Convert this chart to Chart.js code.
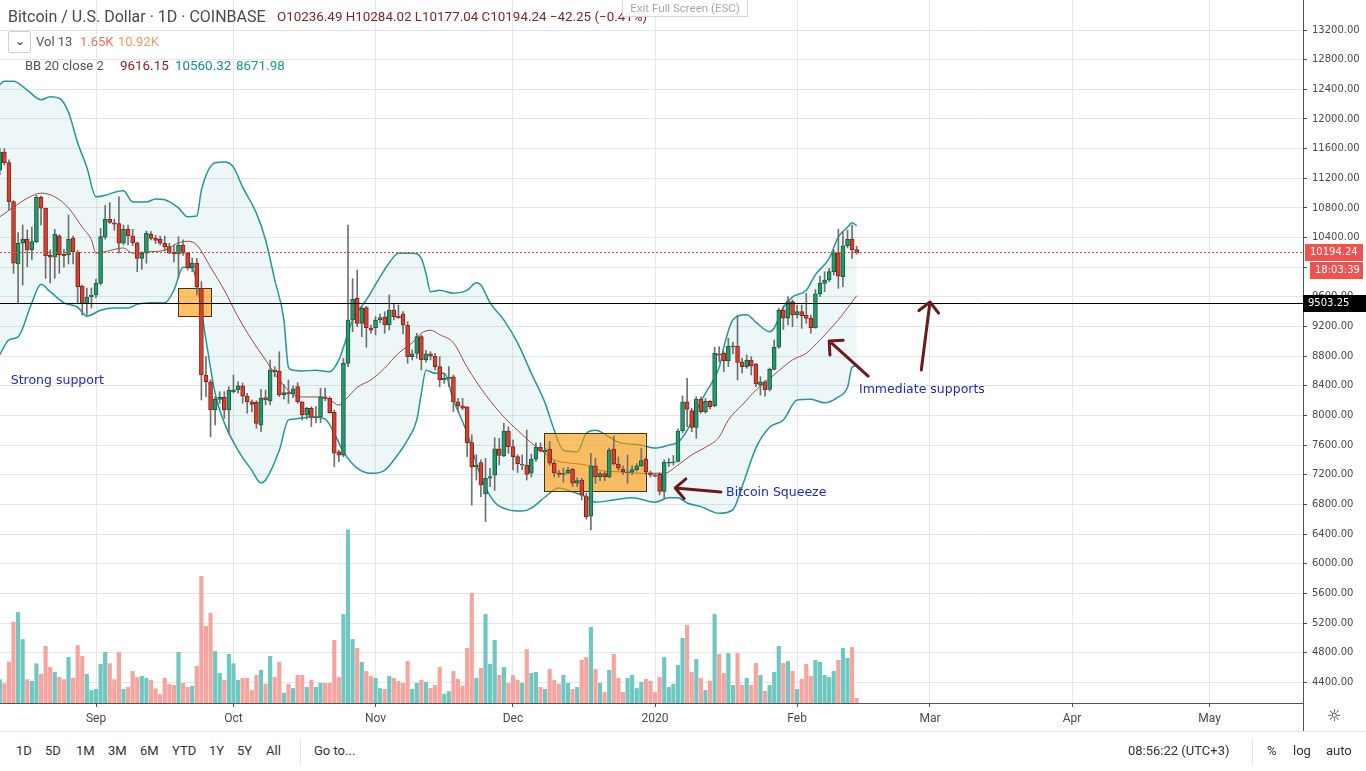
<!DOCTYPE html>
<html>
<head>
<meta charset="utf-8">
<title>BTCUSD 1D</title>
<script src="https://cdn.jsdelivr.net/npm/chart.js@4.4.1/dist/chart.umd.min.js"></script>
<style>
  body { margin: 0; width: 1366px; height: 771px; overflow: hidden; background: #fff; font-family: Roboto, "Liberation Sans", sans-serif; }
  #wrap { position: absolute; left: 0; top: 0; width: 1366px; height: 731px; }
  .t { position: absolute; white-space: nowrap; line-height: 1; }
  #exitfs { left: 622px; top: -1px; width: 124px; height: 16px; border: 1px solid #d6d6d6; background: rgba(255,255,255,0.92); color: #a8a8a8; font-size: 11.5px; text-align: center; line-height: 16px; }
  #ddbtn { left: 8px; top: 31px; width: 21px; height: 20px; border: 1px solid #d0d0d0; border-radius: 2px; background: #fff; color: #444; font-size: 12px; text-align: center; line-height: 18px; }
  #toolbar { position: absolute; left: 0; top: 731px; width: 1366px; height: 40px; border-top: 1px solid #e0e3eb; font-size: 13px; color: #333; }
  #toolbar span { position: absolute; top: 11px; white-space: nowrap; }
  .sep { position: absolute; top: 8px; width: 1px; height: 24px; background: #e0e3eb; }
  #corner { position: absolute; left: 1303px; top: 703px; width: 1px; height: 28px; background: #555; }
  #gear { left: 1327px; top: 708px; font-size: 16px; color: #333; font-family: "DejaVu Sans"; }
</style>
</head>
<body>
<div id="wrap"><canvas id="chart" width="1366" height="731"></canvas></div>

<div class="t" id="title" style="left:8px;top:9px;font-size:16px;color:#4a4a4a">Bitcoin / U.S. Dollar · 1D · COINBASE</div>
<div class="t" id="ohlc" style="left:277px;top:10px;font-size:13.4px;color:#862222"></div>
<div class="t" id="exitfs">Exit Full Screen (ESC)</div>
<div class="t" id="ddbtn">&#8964;</div>
<div class="t" style="left:36px;top:35px;font-size:13px;color:#555">Vol 13</div>
<div class="t" id="volLast" style="left:80px;top:35px;font-size:13px;color:#ef6f66"></div>
<div class="t" style="left:118px;top:35px;font-size:13px;color:#f29b55">10.92K</div>
<div class="t" style="left:25px;top:59px;font-size:13px;color:#555">BB 20 close 2</div>
<div class="t" id="bbBasisVal" style="left:120px;top:59px;font-size:13.4px;color:#8c1c1c"></div>
<div class="t" id="bbUpperVal" style="left:175px;top:59px;font-size:13.4px;color:#138d9a"></div>
<div class="t" id="bbLowerVal" style="left:236px;top:59px;font-size:13.4px;color:#169c8a"></div>

<div id="corner"></div>
<div class="t" id="gear">&#9788;</div>

<div id="toolbar">
  <span style="left:16px">1D</span>
  <span style="left:45px">5D</span>
  <span style="left:76px">1M</span>
  <span style="left:108px">3M</span>
  <span style="left:140px">6M</span>
  <span style="left:172px">YTD</span>
  <span style="left:209px">1Y</span>
  <span style="left:237px">5Y</span>
  <span style="left:266px">All</span>
  <div class="sep" style="left:300px"></div>
  <span style="left:314px">Go to...</span>
  <span style="left:1128px">08:56:22 (UTC+3)</span>
  <div class="sep" style="left:1252px"></div>
  <span style="left:1267px">%</span>
  <span style="left:1293px">log</span>
  <span style="left:1326px">auto</span>
</div>

<script>
// BTC/USD daily, Coinbase. day 0 = 1 Sep 2019, first candle 11 Aug 2019
const firstDay = -21;

const opens = [
  11310, 11555, 11410, 10884, 10044, 10323, 10377, 10232, 10345, 10943,
  10795, 10165, 10135, 10425, 10174, 10165, 10390, 10205, 9746, 9513,
  9603, 9625, 9783, 10404, 10646, 10600, 10590, 10323, 10511, 10425,
  10330, 10120, 10188, 10444, 10390, 10377, 10323, 10278, 10200, 10178,
  10300, 10188, 9993, 10053, 9715, 8546, 8455, 8074, 8218, 8245,
  8074, 8320, 8345, 8400, 8262, 8185, 8176, 7870, 8240, 8196,
  8613, 8600, 8280, 8310, 8290, 8390, 8185, 8006, 8096, 7970,
  7983, 8253, 8230, 8043, 7510, 7465, 8703, 9288, 9580, 9243,
  9455, 9180, 9185, 9288, 9330, 9220, 9423, 9340, 9370, 9220,
  8793, 8838, 9063, 8748, 8830, 8800, 8660, 8480, 8500, 8520,
  8185, 8130, 8118, 7633, 7310, 7365, 6940, 7153, 7193, 7550,
  7453, 7790, 7580, 7445, 7330, 7330, 7220, 7410, 7570, 7510,
  7545, 7355, 7225, 7205, 7225, 7275, 7085, 7130, 6905, 6640,
  7320, 7175, 7215, 7170, 7545, 7345, 7275, 7225, 7235, 7270,
  7320, 7410, 7225, 7195, 7207, 6975, 7355, 7360, 7380, 7790,
  8185, 8065, 7840, 8222, 8050, 8190, 8132, 8830, 8838, 8740,
  8925, 8937, 8725, 8657, 8748, 8690, 8410, 8455, 8353, 8622,
  8920, 9423, 9312, 9535, 9355, 9400, 9355, 9310, 9184, 9640,
  9783, 9828, 9940, 10196, 9872, 10290, 10377, 10236.49
];
const highs = [
  11600, 11600, 11450, 10900, 10466, 10570, 10502, 10543, 10970, 10960,
  10800, 10232, 10511, 10440, 10240, 10704, 10420, 10230, 9760, 9720,
  9720, 9840, 10525, 10830, 10870, 10650, 10950, 10570, 10570, 10510,
  10340, 10210, 10490, 10480, 10430, 10420, 10420, 10323, 10300, 10412,
  10370, 10200, 10124, 10120, 9805, 8793, 8480, 8254, 8321, 8321,
  8388, 8546, 8455, 8438, 8300, 8210, 8200, 8353, 8344, 8748,
  8658, 8860, 8420, 8478, 8400, 8442, 8185, 8110, 8118, 8120,
  8366, 8370, 8254, 8074, 7534, 8770, 10570, 9845, 9962, 9477,
  9470, 9220, 9334, 9370, 9400, 9625, 9513, 9490, 9400, 9265,
  8883, 9109, 9086, 8880, 8860, 8838, 8793, 8560, 8658, 8546,
  8230, 8230, 8118, 7740, 7470, 7400, 7422, 7287, 7700, 7692,
  7894, 7850, 7669, 7470, 7470, 7804, 7480, 7630, 7630, 7560,
  7650, 7390, 7260, 7290, 7300, 7290, 7160, 7152, 6950, 7489,
  7422, 7240, 7240, 7560, 7723, 7440, 7320, 7467, 7320, 7350,
  7557, 7430, 7250, 7220, 7228, 7400, 7420, 7460, 7820, 8263,
  8501, 8096, 8254, 8250, 8230, 8200, 8920, 8928, 8860, 9040,
  8990, 9355, 8771, 8816, 8793, 8704, 8524, 8470, 8640, 9018,
  9445, 9480, 9603, 9558, 9490, 9490, 9648, 9355, 9700, 9882,
  9940, 9985, 10232, 10511, 10480, 10500, 10570, 10284.02
];
const lows = [
  11250, 11380, 10772, 9918, 9513, 9760, 10007, 10097, 10330, 10570,
  9850, 9787, 9850, 9918, 10000, 10043, 10043, 9513, 9355, 9355,
  9450, 9590, 9760, 10380, 10590, 10500, 10190, 10300, 10300, 10290,
  9940, 9970, 10053, 10367, 10320, 10300, 10220, 10180, 10070, 9850,
  10160, 9962, 9940, 9625, 8209, 8253, 7713, 7871, 8164, 7960,
  7760, 8303, 8300, 8164, 8030, 8050, 7827, 7781, 8141, 8141,
  8523, 8253, 8220, 8164, 8240, 8164, 7939, 7950, 7850, 7900,
  7903, 8200, 8030, 7310, 7376, 7440, 8660, 9130, 9197, 9063,
  8920, 9110, 9086, 9250, 9109, 9153, 9288, 9311, 9100, 8704,
  8748, 8771, 8613, 8720, 8750, 8613, 8388, 8434, 8388, 8052,
  8050, 8080, 7444, 6790, 7130, 6904, 6567, 7039, 6990, 7332,
  7444, 7490, 7264, 7230, 7270, 7130, 7170, 7380, 7510, 7470,
  7330, 7170, 7170, 7100, 7210, 7040, 7040, 6860, 6600, 6455,
  7085, 7120, 7120, 7160, 7332, 7260, 7200, 7085, 7200, 7250,
  7310, 7200, 7170, 7170, 6927, 6883, 7310, 7330, 7370, 7768,
  7850, 7781, 7692, 8030, 8030, 8090, 8118, 8720, 8590, 8658,
  8830, 8480, 8569, 8636, 8546, 8388, 8276, 8260, 8330, 8613,
  8906, 9160, 9220, 9197, 9311, 9175, 9243, 9109, 9176, 9603,
  9670, 9805, 9895, 9715, 9737, 10260, 10120, 10177.04
];
const closes = [
  11555, 11410, 10884, 10053, 10323, 10377, 10232, 10345, 10943, 10795,
  10151, 10135, 10444, 10165, 10156, 10377, 10205, 9737, 9513, 9594,
  9625, 9783, 10412, 10646, 10606, 10580, 10323, 10511, 10425, 10330,
  10120, 10188, 10457, 10390, 10363, 10323, 10278, 10196, 10180, 10300,
  10188, 9993, 10053, 9737, 8546, 8455, 8074, 8218, 8245, 8074,
  8344, 8345, 8400, 8262, 8185, 8150, 7893, 8232, 8210, 8613,
  8590, 8276, 8310, 8290, 8360, 8185, 8006, 8096, 7975, 7980,
  8253, 8230, 8038, 7490, 7465, 8703, 9288, 9567, 9243, 9445,
  9185, 9150, 9288, 9320, 9220, 9423, 9330, 9320, 9220, 8793,
  8830, 9063, 8748, 8830, 8800, 8660, 8478, 8500, 8510, 8185,
  8130, 8100, 7633, 7310, 7330, 7063, 7153, 7175, 7550, 7460,
  7790, 7580, 7445, 7350, 7345, 7205, 7410, 7570, 7520, 7530,
  7355, 7225, 7205, 7220, 7260, 7085, 7120, 6925, 6635, 7320,
  7175, 7215, 7175, 7534, 7345, 7290, 7240, 7235, 7270, 7320,
  7390, 7240, 7195, 7180, 6975, 7370, 7370, 7375, 7790, 8185,
  8083, 7840, 8222, 8050, 8190, 8120, 8838, 8815, 8740, 8937,
  8940, 8717, 8657, 8748, 8670, 8424, 8455, 8344, 8622, 8920,
  9423, 9312, 9535, 9355, 9400, 9346, 9310, 9184, 9640, 9783,
  9828, 9940, 10196, 9880, 10290, 10377, 10236.49, 10194.24
];
// volume in thousands of BTC
const volumes = [
  8.2, 6.8, 14.4, 28.4, 31.8, 22.3, 8.2, 7.6, 13.8, 10.1,
  19.9, 12.5, 10.8, 9.0, 8.2, 16.0, 8.7, 20.2, 16.4, 10.1,
  4.4, 4.8, 13.6, 17.8, 13.8, 8.2, 17.8, 4.8, 5.5, 11.1,
  9.0, 9.4, 8.7, 8.0, 5.0, 3.0, 8.7, 6.6, 6.2, 17.8,
  6.9, 5.5, 5.9, 12.9, 44.5, 26.9, 31.5, 18.1, 10.4, 8.0,
  17.1, 13.8, 8.0, 8.7, 8.7, 4.4, 9.7, 11.5, 6.6, 16.4,
  9.0, 14.3, 3.4, 6.6, 5.1, 9.7, 9.7, 5.5, 8.0, 5.5,
  6.9, 6.9, 6.9, 22.0, 9.0, 31.1, 60.8, 22.3, 19.2, 14.3,
  11.1, 9.4, 8.7, 5.1, 4.8, 9.4, 8.7, 7.6, 6.9, 14.6,
  4.8, 6.9, 8.0, 7.3, 5.1, 6.2, 12.5, 3.0, 4.0, 11.1,
  8.3, 5.9, 19.2, 38.5, 8.7, 12.2, 31.1, 13.6, 22.0, 9.7,
  12.5, 6.9, 9.7, 8.0, 6.9, 18.8, 10.4, 10.8, 5.5, 4.8,
  11.8, 8.0, 6.6, 9.7, 6.9, 4.8, 5.5, 15.0, 16.0, 26.6,
  11.8, 6.9, 3.7, 11.5, 17.1, 8.7, 3.7, 8.7, 9.7, 5.1,
  7.3, 8.3, 7.7, 3.7, 9.0, 16.0, 5.5, 6.6, 13.2, 22.7,
  27.3, 10.8, 15.3, 8.7, 4.4, 7.7, 31.1, 17.1, 10.4, 17.4,
  6.2, 17.4, 6.2, 8.7, 6.2, 13.9, 9.7, 4.1, 6.2, 10.8,
  19.9, 13.9, 14.6, 11.1, 4.8, 8.3, 13.6, 9.4, 15.0, 14.3,
  9.7, 9.0, 11.1, 15.0, 19.2, 15.7, 19.5, 1.65
];

// Bollinger bands (20, 2) as [day, price]
const bbUpper = [
  [-21, 12460], [-20, 12510], [-18, 12510], [-15, 12390], [-12, 12260], [-10, 12300], [-8, 12280],
  [-6, 12090], [-4, 11680], [-2, 11350], [0, 10950], [2, 10970], [4, 11010], [6, 11030], [8, 10880],
  [11, 10880], [13, 10920], [15, 10910], [18, 10800], [20, 10680], [22, 10690], [23, 11040],
  [26, 11410], [28, 11420], [30, 11350], [32, 11080], [35, 10730], [37, 10370], [39, 9830],
  [41, 9290], [42, 8650], [43, 8610], [45, 8600], [48, 8610], [51, 8590], [53, 8750], [54, 8920],
  [56, 9290], [59, 9560], [62, 9870], [64, 10060], [66, 10190], [69, 10190], [71, 10120],
  [72, 9920], [73, 9670], [75, 9690], [78, 9650], [81, 9690], [83, 9790], [84, 9760], [86, 9520],
  [89, 9290], [92, 8980], [95, 8570], [98, 8170], [100, 7800], [102, 7530], [105, 7510],
  [107, 7760], [109, 7800], [112, 7710], [114, 7640], [119, 7600], [122, 7560], [125, 7600],
  [127, 7640], [129, 7800], [131, 8070], [133, 8300], [136, 8650], [137, 8920], [139, 9290],
  [142, 9360], [144, 9260], [147, 9130], [148, 9180], [150, 9460], [152, 9600], [155, 9690],
  [157, 9900], [160, 10120], [162, 10410], [164, 10540], [165, 10600], [166, 10560.32]
];
const bbBasis = [
  [-21, 10680], [-18, 10810], [-15, 10930], [-12, 11000], [-9, 10950], [-6, 10800], [-3, 10540],
  [-1, 10370], [0, 10190], [2, 10210], [6, 10260], [8, 10190], [12, 10210], [15, 10230],
  [18, 10330], [20, 10350], [22, 10300], [25, 10000], [28, 9690], [31, 9330], [34, 9020],
  [37, 8750], [40, 8480], [43, 8280], [45, 8250], [49, 8250], [51, 8210], [53, 8140], [55, 8250],
  [57, 8380], [60, 8480], [63, 8640], [66, 8840], [69, 8980], [71, 9110], [73, 9150], [75, 9090],
  [78, 8980], [81, 8650], [85, 8280], [89, 7980], [92, 7800], [95, 7630], [98, 7490], [100, 7400],
  [103, 7360], [107, 7330], [110, 7260], [114, 7240], [119, 7220], [124, 7220], [127, 7330],
  [130, 7470], [133, 7570], [136, 7710], [138, 7940], [141, 8140], [144, 8340], [148, 8550],
  [152, 8750], [155, 8840], [158, 9020], [162, 9290], [164, 9450], [166, 9616.15]
];
const bbLower = [
  [-21, 8820], [-19, 9020], [-17, 9060], [-14, 9520], [-12, 9770], [-10, 9670], [-7, 9520],
  [-4, 9460], [-2, 9340], [1, 9420], [4, 9450], [7, 9450], [9, 9500], [12, 9520], [15, 9520],
  [17, 9690], [19, 10000], [21, 9990], [22, 9790], [24, 9020], [26, 8300], [28, 7900], [31, 7530],
  [34, 7260], [36, 7090], [37, 7130], [40, 7530], [42, 7940], [43, 7950], [47, 7980], [50, 7950],
  [52, 7760], [54, 7510], [57, 7290], [60, 7220], [63, 7260], [65, 7400], [68, 7670], [70, 7940],
  [71, 8300], [72, 8610], [74, 8570], [76, 8570], [78, 8210], [81, 7760], [84, 7170], [87, 6830],
  [90, 6730], [93, 6710], [95, 6750], [98, 6900], [101, 7020], [104, 6970], [107, 6900], [109, 6830],
  [113, 6860], [117, 6890], [122, 6830], [125, 6890], [127, 6890], [129, 6820], [132, 6770],
  [136, 6680], [139, 6730], [141, 7040], [144, 7560], [147, 7840], [150, 7940], [153, 8210],
  [156, 8220], [159, 8170], [162, 8250], [164, 8380], [165, 8650], [166, 8671.98]
];

// time axis: month starts (days from 1 Sep 2019)
const monthTicks = [0, 30, 61, 91, 122, 153, 182, 213, 243];
const monthLabels = ['Sep', 'Oct', 'Nov', 'Dec', '2020', 'Feb', 'Mar', 'Apr', 'May'];
const priceTicks = [4400, 4800, 5200, 5600, 6000, 6400, 6800, 7200, 7600, 8000, 8400, 8800,
  9200, 9600, 10000, 10400, 10800, 11200, 11600, 12000, 12400, 12800, 13200];

// drawings
const supportLevel = 9503.25;
const countdown = '18:03:39';
const boxes = [
  { d0: 17.9, d1: 25.1, top: 9720, bottom: 9342 },
  { d0: 97.8, d1: 120.0, top: 7763, bottom: 6981 }
];
const arrows = [
  { from: [136.4, 6968], to: [126.4, 7022] },
  { from: [168.5, 8532], to: [160.0, 9005] },
  { from: [180.1, 8613], to: [182.0, 9531] }
];
const notes = [
  { text: 'Strong support', d: -18.6, p: 8465 },
  { text: 'Immediate supports', d: 166.5, p: 8344 },
  { text: 'Bitcoin Squeeze', d: 137.5, p: 6954 }
];

const xMin = -20.95, xMax = 263.4;
const yMin = 4121, yMax = 13605;
const volMax = 246.8;

const last = closes.length - 1;
const lastClose = closes[last];

// header text
const chg = closes[last] - closes[last - 1];
document.getElementById('ohlc').textContent =
  'O' + opens[last].toFixed(2) + ' H' + highs[last].toFixed(2) + ' L' + lows[last].toFixed(2) +
  ' C' + closes[last].toFixed(2) + ' \u2212' + Math.abs(chg).toFixed(2) +
  ' (\u2212' + Math.abs(chg / closes[last - 1] * 100).toFixed(2) + '%)';
document.getElementById('volLast').textContent = volumes[last].toFixed(2) + 'K';
document.getElementById('bbBasisVal').textContent = bbBasis[bbBasis.length - 1][1].toFixed(2);
document.getElementById('bbUpperVal').textContent = bbUpper[bbUpper.length - 1][1].toFixed(2);
document.getElementById('bbLowerVal').textContent = bbLower[bbLower.length - 1][1].toFixed(2);

const days = opens.map((_, i) => firstDay + i);
const up = closes.map((c, i) => c >= opens[i]);
const WICK = 1;

function arrow(ctx, x1, y1, x2, y2) {
  const a = Math.atan2(y1 - y2, x1 - x2);
  const len = 14;
  ctx.beginPath();
  ctx.moveTo(x1, y1);
  ctx.lineTo(x2, y2);
  ctx.moveTo(x2 + len * Math.cos(a + Math.PI / 4), y2 + len * Math.sin(a + Math.PI / 4));
  ctx.lineTo(x2, y2);
  ctx.lineTo(x2 + len * Math.cos(a - Math.PI / 4), y2 + len * Math.sin(a - Math.PI / 4));
  ctx.stroke();
}

function priceTag(ctx, y, x0, x1, bg, text) {
  ctx.fillStyle = bg;
  ctx.fillRect(x0, Math.round(y) - 8, x1 - x0, 17);
  ctx.fillStyle = '#fff';
  ctx.font = '10px "DejaVu Sans"';
  ctx.textAlign = 'left';
  ctx.textBaseline = 'middle';
  ctx.fillText(text, x0 + 5, Math.round(y) + 0.5);
}

const drawings = {
  id: 'drawings',
  beforeDatasetDraw(chart, args) {
    if (args.index !== WICK) return;
    const { ctx, scales: { x, y } } = chart;
    ctx.save();
    boxes.forEach(b => {
      const l = x.getPixelForValue(b.d0), r = x.getPixelForValue(b.d1);
      const t = y.getPixelForValue(b.top), btm = y.getPixelForValue(b.bottom);
      ctx.fillStyle = 'rgba(255,152,0,0.6)';
      ctx.fillRect(l, t, r - l, btm - t);
      ctx.strokeStyle = '#4a3210';
      ctx.lineWidth = 1;
      ctx.strokeRect(Math.round(l) + 0.5, Math.round(t) + 0.5, Math.round(r - l), Math.round(btm - t));
    });
    ctx.restore();
  },
  afterDatasetsDraw(chart) {
    const { ctx, chartArea: a, scales: { x, y } } = chart;
    ctx.save();
    // last price line
    const yc = Math.round(y.getPixelForValue(lastClose)) - 0.5;
    ctx.strokeStyle = '#e8433b';
    ctx.lineWidth = 1;
    ctx.setLineDash([2, 2]);
    ctx.beginPath(); ctx.moveTo(a.left, yc); ctx.lineTo(a.right, yc); ctx.stroke();
    ctx.setLineDash([]);
    // support line
    const ys = Math.round(y.getPixelForValue(supportLevel)) - 0.5;
    ctx.strokeStyle = '#000';
    ctx.beginPath(); ctx.moveTo(a.left, ys); ctx.lineTo(a.right, ys); ctx.stroke();
    // arrows
    ctx.strokeStyle = '#6e1a1a';
    ctx.lineWidth = 3;
    ctx.lineCap = 'round';
    ctx.lineJoin = 'round';
    arrows.forEach(ar => arrow(ctx,
      x.getPixelForValue(ar.from[0]), y.getPixelForValue(ar.from[1]),
      x.getPixelForValue(ar.to[0]), y.getPixelForValue(ar.to[1])));
    // notes
    ctx.fillStyle = '#2525c8';
    ctx.font = '12.5px "DejaVu Sans"';
    ctx.textAlign = 'left';
    ctx.textBaseline = 'middle';
    notes.forEach(n => ctx.fillText(n.text, x.getPixelForValue(n.d), y.getPixelForValue(n.p)));
    ctx.restore();
  },
  afterDraw(chart) {
    const { ctx, scales: { y } } = chart;
    ctx.save();
    const yc = y.getPixelForValue(lastClose) - 1;
    priceTag(ctx, yc, 1305, 1363, '#ef5350', lastClose.toFixed(2));
    priceTag(ctx, yc + 18, 1310, 1363, '#ef5350', countdown);
    priceTag(ctx, y.getPixelForValue(supportLevel) - 1, 1303, 1366, '#000', supportLevel.toFixed(2));
    ctx.restore();
  }
};

Chart.defaults.font.family = 'Roboto';

new Chart(document.getElementById('chart'), {
  type: 'bar',
  data: {
    datasets: [
      {
        type: 'bar', label: 'Body',
        data: days.map((d, i) => ({ x: d, y: [opens[i], closes[i]] })),
        backgroundColor: up.map(u => u ? '#26986a' : '#d5412f'),
        borderColor: up.map(u => u ? '#175c40' : '#8a2419'),
        borderWidth: 1, borderSkipped: false,
        barThickness: 4, minBarLength: 1, grouped: false,
        yAxisID: 'y', order: 1
      },
      {
        type: 'bar', label: 'Wick',
        data: days.map((d, i) => ({ x: d, y: [lows[i], highs[i]] })),
        backgroundColor: '#707070',
        barThickness: 1, grouped: false,
        yAxisID: 'y', order: 2
      },
      {
        type: 'line', label: 'BB basis',
        data: bbBasis.map(([d, p]) => ({ x: d, y: p })),
        borderColor: '#a24646', borderWidth: 1, pointRadius: 0,
        cubicInterpolationMode: 'monotone', fill: false,
        yAxisID: 'y', order: 3
      },
      {
        type: 'line', label: 'BB upper',
        data: bbUpper.map(([d, p]) => ({ x: d, y: p })),
        borderColor: '#24969c', borderWidth: 1.5, pointRadius: 0,
        cubicInterpolationMode: 'monotone',
        fill: '+1', backgroundColor: 'rgba(33,150,160,0.08)',
        yAxisID: 'y', order: 4
      },
      {
        type: 'line', label: 'BB lower',
        data: bbLower.map(([d, p]) => ({ x: d, y: p })),
        borderColor: '#24969c', borderWidth: 1.5, pointRadius: 0,
        cubicInterpolationMode: 'monotone', fill: false,
        yAxisID: 'y', order: 5
      },
      {
        type: 'bar', label: 'Volume',
        data: days.map((d, i) => ({ x: d, y: volumes[i] })),
        backgroundColor: up.map(u => u ? '#6fc7c1' : '#f5a49e'),
        barThickness: 3.5, grouped: false,
        yAxisID: 'vol', order: 6
      }
    ]
  },
  options: {
    responsive: false,
    animation: false,
    layout: { padding: 0 },
    plugins: { legend: { display: false }, tooltip: { enabled: false } },
    scales: {
      x: {
        type: 'linear', min: xMin, max: xMax, offset: false,
        afterBuildTicks: s => { s.ticks = monthTicks.map(v => ({ value: v })); },
        afterFit: s => { s.height = 28; s.paddingLeft = 0; s.paddingRight = 0; },
        ticks: {
          autoSkip: false, maxRotation: 0, padding: 5, color: '#4a4a4a',
          font: { family: 'Roboto', size: 12 },
          callback: v => monthLabels[monthTicks.indexOf(v)]
        },
        grid: { color: '#e6e6ea', tickColor: '#555', tickLength: 4, offset: false },
        border: { color: '#555' }
      },
      y: {
        type: 'linear', position: 'right', min: yMin, max: yMax,
        afterBuildTicks: s => { s.ticks = priceTicks.map(v => ({ value: v })); },
        afterFit: s => { s.width = 63; s.paddingTop = 0; s.paddingBottom = 0; },
        ticks: {
          padding: 5, color: '#4a4a4a',
          font: { family: 'DejaVu Sans', size: 10 },
          callback: v => v.toFixed(2)
        },
        grid: { color: '#e6e6ea', tickColor: '#555', tickLength: 4 },
        border: { color: '#555' }
      },
      vol: { type: 'linear', display: false, min: 0, max: volMax }
    }
  },
  plugins: [drawings]
});
</script>
</body>
</html>
